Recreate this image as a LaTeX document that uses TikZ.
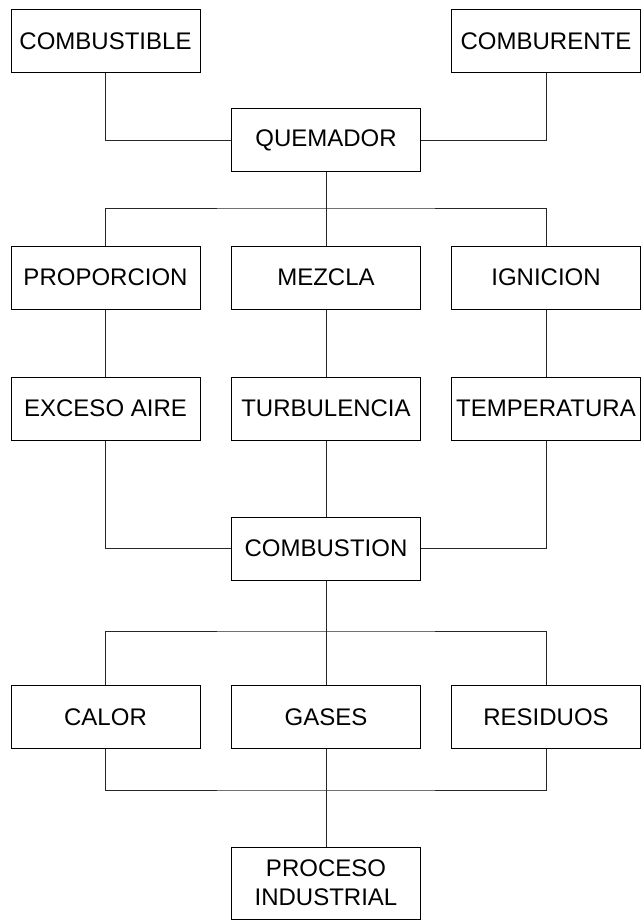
\documentclass[tikz,border=0pt]{standalone}
\usepackage{fontspec}
\setmainfont{Liberation Sans}
\usepackage{tikz}
\usetikzlibrary{positioning,calc}

\begin{document}
\begin{tikzpicture}[x=1pt, y=-1pt,
    box/.style={draw=black, line width=1pt, minimum width=189pt, minimum height=63pt, inner sep=2pt, font=\fontsize{24}{29}\selectfont, align=center},
    link/.style={draw=black!85, line width=1pt}]
    \useasboundingbox (0,0) rectangle (641,920);

    % Nodes
    \node[box] (fuel) at (105.5, 41.5) {COMBUSTIBLE};
    \node[box] (oxid) at (546, 41.5) {COMBURENTE};
    \node[box] (burner) at (326, 140.5) {QUEMADOR};

    \node[box] (ratio) at (105.5, 277.5) {PROPORCION};
    \node[box] (mix) at (326, 277.5) {MEZCLA};
    \node[box] (ignit) at (546, 277.5) {IGNICION};

    \node[box] (excess) at (105.5, 408.5) {EXCESO AIRE};
    \node[box] (turb) at (326, 408.5) {TURBULENCIA};
    \node[box] (temp) at (546, 408.5) {TEMPERATURA};

    \node[box] (comb) at (326, 548.5) {COMBUSTION};

    \node[box] (heat) at (105.5, 717) {CALOR};
    \node[box] (gases) at (326, 717) {GASES};
    \node[box] (resid) at (546, 717) {RESIDUOS};

    \node[box, minimum height=72pt] (proc) at (326, 883) {PROCESO\\INDUSTRIAL};

    % Bus points
    \coordinate (bus1) at (326, 208);
    \coordinate (bus2) at (326, 631);
    \coordinate (bus3) at (326, 790);

    % Connectors
    \draw[link] (fuel.south) |- (burner.west);
    \draw[link] (oxid.south) |- (burner.east);

    \draw[link] (burner.south) -- (bus1);
    \draw[link] (ratio.north) |- (bus1) -| (ignit.north);
    \draw[link] (bus1) -- (mix.north);

    \draw[link] (ratio) -- (excess);
    \draw[link] (mix) -- (turb);
    \draw[link] (ignit) -- (temp);

    \draw[link] (excess.south) |- (comb.west);
    \draw[link] (temp.south) |- (comb.east);
    \draw[link] (turb) -- (comb);

    \draw[link] (comb.south) -- (bus2);
    \draw[link] (heat.north) |- (bus2) -| (resid.north);
    \draw[link] (bus2) -- (gases.north);

    \draw[link] (heat.south) |- (bus3) -| (resid.south);
    \draw[link] (gases) -- (proc);
\end{tikzpicture}
\end{document}
